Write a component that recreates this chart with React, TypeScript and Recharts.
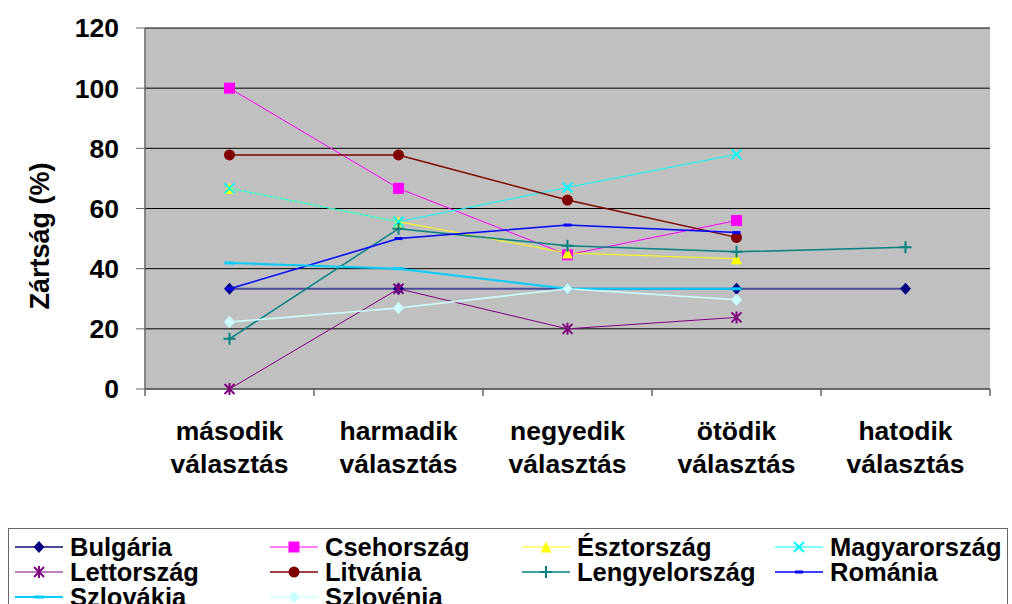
import React from "react";
import { LineChart, Line, XAxis, YAxis, CartesianGrid } from "recharts";

const FONT = '"Liberation Sans", Arial, sans-serif';

const categories = [
  "második választás",
  "harmadik választás",
  "negyedik választás",
  "ötödik választás",
  "hatodik választás",
];
const yTicks = [0, 20, 40, 60, 80, 100, 120];

const bulgaria = [33.3, 33.3, 33.3, 33.3, 33.3];
const csehorszag = [100, 66.7, 44.6, 56, null];
const esztorszag = [66.7, 55.6, 45.2, 43.3, null];
const magyarorszag = [66.7, 55.6, 67, 78, null];
const lettorszag = [0, 33.3, 20, 23.8, null];
const litvania = [77.8, 77.8, 62.8, 50.4, null];
const lengyelorszag = [16.7, 53.3, 47.6, 45.6, 47.1];
const romania = [33.3, 50, 54.5, 52, null];
const szlovakia = [41.9, 40, 33.3, 33.3, null];
const szlovenia = [22.3, 26.9, 33.3, 29.7, null];

type Shape = "diamond" | "square" | "triangle" | "x" | "star" | "circle" | "plus" | "dash" | "longdash";

const series: { name: string; values: (number | null)[]; line: string; mark: string; width: number; shape: Shape }[] = [
  { name: "Bulgária", values: bulgaria, line: "#4b4b9c", mark: "#000080", width: 2, shape: "diamond" },
  { name: "Csehország", values: csehorszag, line: "#ff00ff", mark: "#ff00ff", width: 1, shape: "square" },
  { name: "Észtország", values: esztorszag, line: "#ffff00", mark: "#ffff00", width: 1, shape: "triangle" },
  { name: "Magyarország", values: magyarorszag, line: "#00ffff", mark: "#00ffff", width: 1, shape: "x" },
  { name: "Lettország", values: lettorszag, line: "#800080", mark: "#800080", width: 1, shape: "star" },
  { name: "Litvánia", values: litvania, line: "#800000", mark: "#800000", width: 1.5, shape: "circle" },
  { name: "Lengyelország", values: lengyelorszag, line: "#008080", mark: "#008080", width: 1.5, shape: "plus" },
  { name: "Románia", values: romania, line: "#0000ff", mark: "#0000ff", width: 1.5, shape: "dash" },
  { name: "Szlovákia", values: szlovakia, line: "#00ccff", mark: "#00ccff", width: 2, shape: "longdash" },
  { name: "Szlovénia", values: szlovenia, line: "#ccffff", mark: "#ccffff", width: 1.5, shape: "diamond" },
];

const data = categories.map((c, i) => {
  const row: Record<string, string | number | null> = { cat: c };
  series.forEach((s) => (row[s.name] = s.values[i]));
  return row;
});

function Marker({ shape, cx, cy, color }: { shape: Shape; cx: number; cy: number; color: string }) {
  const r = 5.5;
  switch (shape) {
    case "diamond":
      return <path d={`M${cx},${cy - r - 0.5}L${cx + r},${cy}L${cx},${cy + r + 0.5}L${cx - r},${cy}Z`} fill={color} />;
    case "square":
      return <rect x={cx - r} y={cy - r} width={r * 2} height={r * 2} fill={color} />;
    case "triangle":
      return <path d={`M${cx},${cy - r}L${cx + r},${cy + r}L${cx - r},${cy + r}Z`} fill={color} />;
    case "circle":
      return <circle cx={cx} cy={cy} r={r} fill={color} />;
    case "x":
      return (
        <path d={`M${cx - 5},${cy - 5}L${cx + 5},${cy + 5}M${cx + 5},${cy - 5}L${cx - 5},${cy + 5}`} stroke={color} strokeWidth={2} />
      );
    case "star":
      return (
        <path
          d={`M${cx - 5},${cy - 5}L${cx + 5},${cy + 5}M${cx + 5},${cy - 5}L${cx - 5},${cy + 5}M${cx},${cy - 6}L${cx},${cy + 6}`}
          stroke={color}
          strokeWidth={2}
        />
      );
    case "plus":
      return <path d={`M${cx - 6},${cy}L${cx + 6},${cy}M${cx},${cy - 6}L${cx},${cy + 6}`} stroke={color} strokeWidth={2} />;
    case "dash":
      return <rect x={cx - 4} y={cy - 1.5} width={8} height={3} fill={color} />;
    case "longdash":
      return <rect x={cx - 5} y={cy - 1.5} width={10} height={3} fill={color} />;
  }
  return null;
}

function CatTick(props: any) {
  const { x, y, payload, index } = props;
  const half = payload && payload.offset ? payload.offset : 84.5;
  const [a, b] = String(payload.value).split(" ");
  return (
    <g>
      <line x1={x - half} x2={x - half} y1={y} y2={y + 7} stroke="#666" strokeWidth={1.5} />
      {index === categories.length - 1 && (
        <line x1={x + half} x2={x + half} y1={y} y2={y + 7} stroke="#666" strokeWidth={1.5} />
      )}
      <text x={x} y={y + 51} textAnchor="middle" fontFamily={FONT} fontWeight="bold" fontSize={26.5} fill="#000">
        {a}
      </text>
      <text x={x} y={y + 84} textAnchor="middle" fontFamily={FONT} fontWeight="bold" fontSize={26.5} fill="#000">
        {b}
      </text>
    </g>
  );
}

const legendCols = [15, 270, 522, 775];
const legendRows = [547, 572, 597];

export default function App() {
  return (
    <div style={{ position: "absolute", left: 0, top: 0, width: 1012, height: 604, overflow: "hidden", background: "#fff" }}>
      <LineChart width={1012} height={520} data={data} margin={{ top: 28, right: 22, left: 0, bottom: 31 }}>
        <CartesianGrid vertical={false} stroke="#000" fill="#c0c0c0" />
        <XAxis
          dataKey="cat"
          scale="band"
          height={100}
          interval={0}
          tickLine={false}
          tickSize={0}
          tickMargin={0}
          tick={<CatTick />}
          axisLine={{ stroke: "#666", strokeWidth: 1.5 }}
        />
        <YAxis
          width={145}
          domain={[0, 120]}
          ticks={yTicks}
          interval={0}
          tickSize={9}
          tickMargin={17}
          axisLine={{ stroke: "#666", strokeWidth: 1.5 }}
          tickLine={{ stroke: "#666" }}
          tick={{ fill: "#000", fontSize: 26.5, fontWeight: "bold", fontFamily: FONT }}
          label={{
            content: () => (
              <text
                x={40}
                y={236}
                transform="rotate(-90 40 236)"
                textAnchor="middle"
                dominantBaseline="central"
                fontFamily={FONT}
                fontWeight="bold"
                fontSize={27}
                fill="#000"
              >
                Zártság (%)
              </text>
            ),
          }}
        />
        <YAxis yAxisId="right" orientation="right" width={0} tick={false} tickLine={false} axisLine={{ stroke: "#888", strokeWidth: 1.5 }} />
        {series.map((s) => (
          <Line
            key={s.name}
            dataKey={s.name}
            stroke={s.line}
            strokeWidth={s.width}
            isAnimationActive={false}
            activeDot={false}
            connectNulls={false}
            dot={(p: any) =>
              p.cx == null || p.cy == null || p.value == null ? (
                <g key={p.index} />
              ) : (
                <Marker key={p.index} shape={s.shape} cx={p.cx} cy={p.cy} color={s.mark} />
              )
            }
          />
        ))}
      </LineChart>
      <div
        style={{
          position: "absolute",
          left: 8,
          top: 528,
          width: 1000,
          height: 80,
          border: "1px solid #666",
          boxSizing: "border-box",
        }}
      />
      {series.map((s, i) => (
        <div
          key={s.name}
          style={{
            position: "absolute",
            left: legendCols[i % 4],
            top: legendRows[Math.floor(i / 4)] - 13,
            height: 26,
            display: "flex",
            alignItems: "center",
            fontFamily: FONT,
            fontWeight: "bold",
            fontSize: 25.5,
            lineHeight: "26px",
            whiteSpace: "nowrap",
          }}
        >
          <svg width={48} height={26} style={{ display: "block" }}>
            <line x1={0} x2={48} y1={13} y2={13} stroke={s.line} strokeWidth={s.width} />
            <Marker shape={s.shape} cx={24} cy={13} color={s.mark} />
          </svg>
          <span style={{ marginLeft: 7 }}>{s.name}</span>
        </div>
      ))}
    </div>
  );
}
